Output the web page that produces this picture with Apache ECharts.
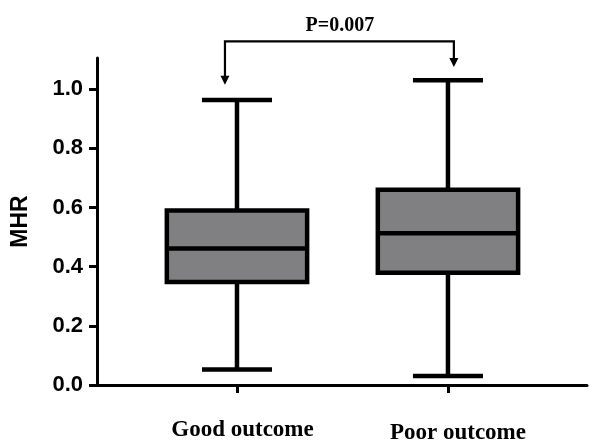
<!DOCTYPE html>
<html>
<head>
<meta charset="utf-8">
<script src="https://cdn.jsdelivr.net/npm/echarts@6/dist/echarts.min.js"></script>
<style>html,body{margin:0;padding:0;background:#fff;}#c{width:590px;height:445px;}</style>
</head>
<body>
<div id="c"></div>
<script>
// ---- data ----
const categories = ['Good outcome', 'Poor outcome'];
const categoryPos = [1, 2];
const minVals    = [0.052, 0.030];
const q1Vals     = [0.348, 0.379];
const medianVals = [0.461, 0.513];
const q3Vals     = [0.590, 0.660];
const maxVals    = [0.963, 1.030];
const yTicks = [0, 0.2, 0.4, 0.6, 0.8, 1.0];
const pLabel = 'P=0.007';
// bracket annotation anchors (data space)
const bracketX = [0.943, 2.028];
const bracketTopY = 1.161;
const arrowTipY = [1.015, 1.075];

const boxData = categoryPos.map((x, i) => [x, minVals[i], q1Vals[i], medianVals[i], q3Vals[i], maxVals[i]]);

const chart = echarts.init(document.getElementById('c'), null, {renderer: 'canvas'});
const BOX_W = 0.665, CAP_W = 0.332;
const LW = 4.5;

function renderBox(params, api) {
  const x = api.value(0);
  const pMin = api.coord([x, api.value(1)]);
  const pQ1 = api.coord([x, api.value(2)]);
  const pMed = api.coord([x, api.value(3)]);
  const pQ3 = api.coord([x, api.value(4)]);
  const pMax = api.coord([x, api.value(5)]);
  const bw = api.size([BOX_W, 0])[0];
  const cw = api.size([CAP_W, 0])[0];
  const cx = pMed[0];
  const ls = {stroke: '#000', lineWidth: LW};
  return {
    type: 'group',
    children: [
      {type: 'line', shape: {x1: cx, y1: pQ1[1], x2: cx, y2: pMin[1]}, style: ls},
      {type: 'line', shape: {x1: cx, y1: pQ3[1], x2: cx, y2: pMax[1]}, style: ls},
      {type: 'line', shape: {x1: cx - cw / 2, y1: pMin[1], x2: cx + cw / 2, y2: pMin[1]}, style: ls},
      {type: 'line', shape: {x1: cx - cw / 2, y1: pMax[1], x2: cx + cw / 2, y2: pMax[1]}, style: ls},
      {type: 'rect', shape: {x: cx - bw / 2, y: pQ3[1], width: bw, height: pQ1[1] - pQ3[1]},
        style: {fill: '#808083', stroke: '#000', lineWidth: LW}},
      {type: 'line', shape: {x1: cx - bw / 2, y1: pMed[1], x2: cx + bw / 2, y2: pMed[1]}, style: ls}
    ]
  };
}

const option = {
  animation: false,
  backgroundColor: '#fff',
  grid: {left: 97, right: 3, top: 58, bottom: 57, containLabel: false},
  xAxis: {
    type: 'value', min: 0.3365, max: 2.659,
    splitLine: {show: false},
    axisLine: {show: true, lineStyle: {color: '#000', width: 3}},
    axisTick: {show: true, customValues: categoryPos, length: 8, lineStyle: {color: '#000', width: 3}},
    axisLabel: {
      show: true, customValues: categoryPos, margin: 34,
      formatter: v => {
        const i = categoryPos.indexOf(Math.round(v));
        return i === 0 ? '{a|' + categories[0] + '}' : '{b|' + categories[1] + '}';
      },
      rich: {
        a: {fontFamily: 'Liberation Serif', fontWeight: 'bold', fontSize: 23, color: '#000', padding: [0, 0, 0, 11]},
        b: {fontFamily: 'Liberation Serif', fontWeight: 'bold', fontSize: 23, color: '#000', padding: [3, 0, 0, 20]}
      }
    }
  },
  yAxis: {
    type: 'value', min: 0, max: 1.105,
    name: 'MHR', nameLocation: 'middle', nameGap: 65,
    nameTextStyle: {fontFamily: 'Liberation Sans', fontWeight: 'bold', fontSize: 23, color: '#000'},
    splitLine: {show: false},
    axisLine: {show: true, lineStyle: {color: '#000', width: 3}},
    axisTick: {show: true, customValues: yTicks, length: 8, lineStyle: {color: '#000', width: 3}},
    axisLabel: {
      show: true, customValues: yTicks, margin: 14,
      formatter: v => Number(v).toFixed(1),
      fontFamily: 'Liberation Sans', fontWeight: 'bold', fontSize: 22, color: '#000'
    }
  },
  series: [{
    type: 'custom',
    renderItem: renderBox,
    data: boxData,
    encode: {x: 0, y: [1, 2, 3, 4, 5]},
    clip: false
  }]
};
chart.setOption(option);

// bracket annotation computed through the chart's scales
const pL = chart.convertToPixel({gridIndex: 0}, [bracketX[0], bracketTopY]);
const pR = chart.convertToPixel({gridIndex: 0}, [bracketX[1], bracketTopY]);
const tL = chart.convertToPixel({gridIndex: 0}, [bracketX[0], arrowTipY[0]]);
const tR = chart.convertToPixel({gridIndex: 0}, [bracketX[1], arrowTipY[1]]);
const AH = 9, AW = 4.5;
const bs = {stroke: '#000', lineWidth: 2.2, fill: null};
chart.setOption({
  graphic: [
    {type: 'polyline', shape: {points: [[pL[0], tL[1] - AH + 1], [pL[0], pL[1]], [pR[0], pR[1]], [pR[0], tR[1] - AH + 1]]}, style: bs},
    {type: 'polygon', shape: {points: [[tL[0] - AW, tL[1] - AH], [tL[0] + AW, tL[1] - AH], [tL[0], tL[1]]]}, style: {fill: '#000'}},
    {type: 'polygon', shape: {points: [[tR[0] - AW, tR[1] - AH], [tR[0] + AW, tR[1] - AH], [tR[0], tR[1]]]}, style: {fill: '#000'}},
    {type: 'text', x: (pL[0] + pR[0]) / 2 + 0.5, y: pL[1] - 16,
      style: {text: pLabel, fontFamily: 'Liberation Serif', fontWeight: 'bold', fontSize: 20, fill: '#000', align: 'center', verticalAlign: 'middle'}}
  ]
});
</script>
</body>
</html>
